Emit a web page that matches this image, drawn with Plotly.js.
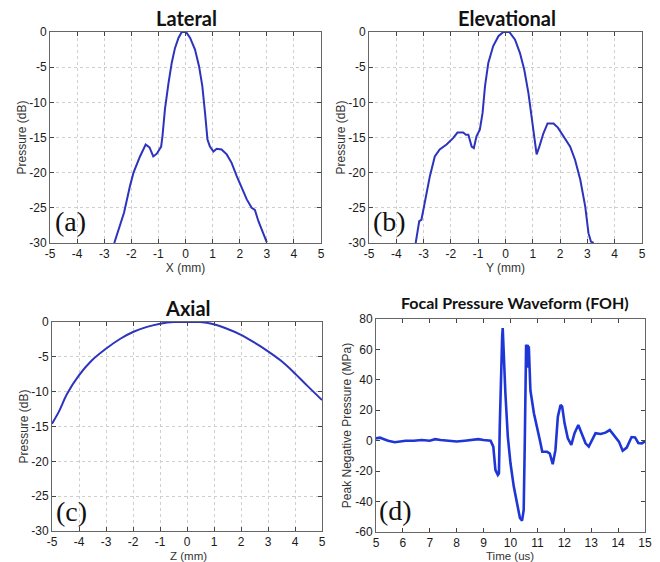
<!DOCTYPE html>
<html><head><meta charset="utf-8">
<script src="https://cdn.plot.ly/plotly-3.0.1.min.js"></script>
<style>html,body{margin:0;padding:0;background:#fff}#g{width:660px;height:562px}</style>
</head><body><div id="g"></div>
<script>
var latX = [-2.63,-2.44,-2.27,-2.05,-1.92,-1.68,-1.47,-1.33,-1.19,-1.06,-0.90,-0.85,-0.76,-0.63,-0.51,-0.39,-0.26,-0.14,0.02,0.17,0.35,0.50,0.62,0.72,0.81,0.90,1.03,1.15,1.33,1.52,1.70,1.89,2.07,2.26,2.44,2.56,2.69,2.87,3.0];
var latY = [-30,-27.9,-25.7,-21.9,-20,-17.7,-16.0,-16.4,-17.7,-17.3,-16.3,-14.8,-11.0,-7.3,-4.4,-2.3,-0.85,0,0,-0.85,-2.5,-4.9,-7.7,-11.5,-15.3,-16.3,-17.0,-16.6,-16.7,-17.4,-18.6,-20.5,-22.2,-23.8,-25.0,-25.3,-26.9,-28.6,-29.9];
var eleX = [-3.29,-3.16,-3.08,-2.96,-2.77,-2.59,-2.41,-2.16,-1.92,-1.76,-1.55,-1.45,-1.36,-1.24,-1.16,-1.06,-0.94,-0.84,-0.75,-0.63,-0.45,-0.26,-0.08,0.14,0.35,0.53,0.69,0.84,0.96,1.06,1.14,1.24,1.39,1.54,1.76,1.92,2.12,2.37,2.55,2.74,2.92,3.04,3.13,3.23];
var eleY = [-30,-26.9,-26.7,-24.3,-20.5,-17.7,-16.7,-16.0,-15.1,-14.3,-14.3,-14.6,-14.6,-16.3,-16.5,-14.8,-13.9,-11.5,-7.7,-4.4,-2.0,-0.6,0,0,-1.1,-3.0,-5.4,-8.7,-12.0,-15.3,-17.4,-16.3,-14.4,-13.0,-13.0,-13.6,-14.8,-16.3,-18.2,-21.0,-24.8,-28.6,-29.8,-30];
var axX = [-5,-4.75,-4.44,-4.01,-3.52,-2.99,-2.47,-1.98,-1.48,-0.99,-0.49,0,0.49,0.99,1.48,1.98,2.47,2.96,3.46,3.95,4.44,5];
var axY = [-14.6,-12.9,-10.3,-7.7,-5.5,-3.8,-2.4,-1.4,-0.7,-0.24,0,0,0,-0.33,-0.96,-1.8,-2.9,-4.1,-5.5,-7.2,-9.1,-11.2];
var tX = [5.0,5.15,5.3,5.45,5.7,5.9,6.1,6.4,6.7,7.0,7.2,7.4,7.7,8.0,8.3,8.6,8.8,9.0,9.26,9.36,9.44,9.53,9.57,9.60,9.65,9.69,9.71,9.73,9.81,9.90,10.0,10.12,10.25,10.35,10.43,10.49,10.53,10.56,10.58,10.61,10.63,10.64,10.66,10.68,10.74,10.87,10.99,11.09,11.18,11.36,11.46,11.57,11.67,11.76,11.86,11.92,12.01,12.13,12.26,12.38,12.52,12.63,12.79,12.91,13.04,13.16,13.35,13.53,13.69,13.84,14.03,14.17,14.32,14.50,14.63,14.75,14.88,15];
var tY = [1.5,2,1,0,-1,-0.5,0,0,0.5,0,1,0.5,0,-0.5,0,0.5,1,0.5,0,-3.9,-19.3,-22.5,-21.5,9.2,53,68.5,74,64,31,2.6,-15,-30,-43,-50.8,-52.5,-45.5,-1.7,42,63,62,48,63,52,62,33,18,9.2,0.4,-7.3,-7.3,-8.4,-15.4,-6.2,15.8,23.5,22.4,11.4,1.6,-2.8,4.9,10.3,4.9,-1.7,-3.9,0.4,4.9,4.4,5.3,7,3.8,-0.6,-6.6,-4.5,2.4,2.2,-1.5,-1.8,-0.4];
var dbTicks = [0,-5,-10,-15,-20,-25,-30];
var dbLabels = ['0','-5','-10','-15','-20','-25','-30'];
var mmTicks = [-5,-4,-3,-2,-1,0,1,2,3,4,5];
var mmLabels = ['-5','-4','-3','-2','-1','0','1','2','3','4','5'];
var usTicks = [5,6,7,8,9,10,11,12,13,14,15];
var usLabels = ['5','6','7','8','9','10','11','12','13','14','15'];
var mpaTicks = [80,60,40,20,0,-20,-40,-60];
var mpaLabels = ['80','60','40','20','0','-20','-40','-60'];
var titles = ['Lateral','Elevational','Axial','Focal Pressure Waveform (FOH)'];
var xTitles = ['X (mm)','Y (mm)','Z (mm)','Time (us)'];
var yTitles = ['Pressure (dB)','Pressure (dB)','Pressure (dB)','Peak Negative Pressure (MPa)'];
var panelTags = ['(a)','(b)','(c)','(d)'];

var lineA = {color:'#2c33bd', width:2};
var traces = [
  {x:latX, y:latY, xaxis:'x', yaxis:'y', mode:'lines', line:lineA},
  {x:eleX, y:eleY, xaxis:'x2', yaxis:'y2', mode:'lines', line:lineA},
  {x:axX, y:axY, xaxis:'x3', yaxis:'y3', mode:'lines', line:{color:'#2c33bd',width:2,shape:'spline'}},
  {x:tX, y:tY, xaxis:'x4', yaxis:'y4', mode:'lines', line:{color:'#1f36d6', width:2.6}}
];
var tickFont = {family:'Liberation Sans, Arial, sans-serif', size:12, color:'#1a1a1a'};
var titleFont = {family:'Liberation Sans, Arial, sans-serif', size:12, color:'#333'};
function ax(dom, anchor, ticks, labels, rng, title, grid, so){
  return {domain:dom, anchor:anchor, range:rng, tickvals:ticks, ticktext:labels, ticks:'inside', ticklen:4, tickcolor:'#444',
    showline:true, mirror:'ticks', linecolor:'#666', linewidth:1, zeroline:false,
    showgrid:grid, gridcolor:'#cfcfcf', griddash:'dot', gridwidth:1, tickfont:tickFont,
    title:{text:title, font:titleFont, standoff:so}, automargin:false, fixedrange:true};
}
var layout = {
  width:660, height:562, margin:{l:0,r:0,t:0,b:0}, showlegend:false,
  paper_bgcolor:'#fff', plot_bgcolor:'#fff',
  xaxis: ax([0.0758,0.4864],'y',mmTicks,mmLabels,[-5,5],xTitles[0],true,1),
  yaxis: ax([0.5676,0.9431],'x',dbTicks,dbLabels,[-30,0],yTitles[0],true,0),
  xaxis2: ax([0.5591,0.9727],'y2',mmTicks,mmLabels,[-5,5],xTitles[1],true,1),
  yaxis2: ax([0.5676,0.9431],'x2',dbTicks,dbLabels,[-30,0],yTitles[1],true,0),
  xaxis3: ax([0.0788,0.4879],'y3',mmTicks,mmLabels,[-5,5],'',true,2),
  yaxis3: ax([0.0552,0.4270],'x3',dbTicks,dbLabels,[-30,0],yTitles[2],true,0),
  xaxis4: ax([0.5697,0.9773],'y4',usTicks,usLabels,[5,15],'',false,3),
  yaxis4: ax([0.0534,0.4324],'x4',mpaTicks,mpaLabels,[-60,80],yTitles[3],false,1),
  annotations: []
};
// bottom-row x titles placed as annotations to keep them clear of tick labels
var xtpos = [[188,556],[510,556]];
for (var k=0;k<2;k++){
  layout.annotations.push({text:xTitles[2+k], xref:'paper', yref:'paper',
    x:xtpos[k][0]/660, y:1-xtpos[k][1]/562, xanchor:'center', yanchor:'middle', showarrow:false,
    font:{family:'Liberation Sans, Arial, sans-serif', size:11.5, color:'#333'}});
}
var tpos = [[186,18],[507,18],[188,308],[515,302]];
var tsize = [20,20,20,16];
for (var i=0;i<4;i++){
  layout.annotations.push({text:'<b>'+titles[i]+'</b>', xref:'paper', yref:'paper',
    x:tpos[i][0]/660, y:1-tpos[i][1]/562, xanchor:'center', yanchor:'middle', showarrow:false,
    font:{family:'Lato, Open Sans, sans-serif', size:tsize[i], color:'#111'}});
}
var ppos = [[53,222],[371,222],[54,511],[377,510]];
for (var i=0;i<4;i++){
  layout.annotations.push({text:panelTags[i], xref:'paper', yref:'paper',
    x:ppos[i][0]/660, y:1-ppos[i][1]/562, xanchor:'left', yanchor:'middle', showarrow:false,
    font:{family:'Liberation Serif, Times New Roman, serif', size:28, color:'#111'}});
}
Plotly.newPlot('g', traces, layout, {staticPlot:true});
</script></body></html>
